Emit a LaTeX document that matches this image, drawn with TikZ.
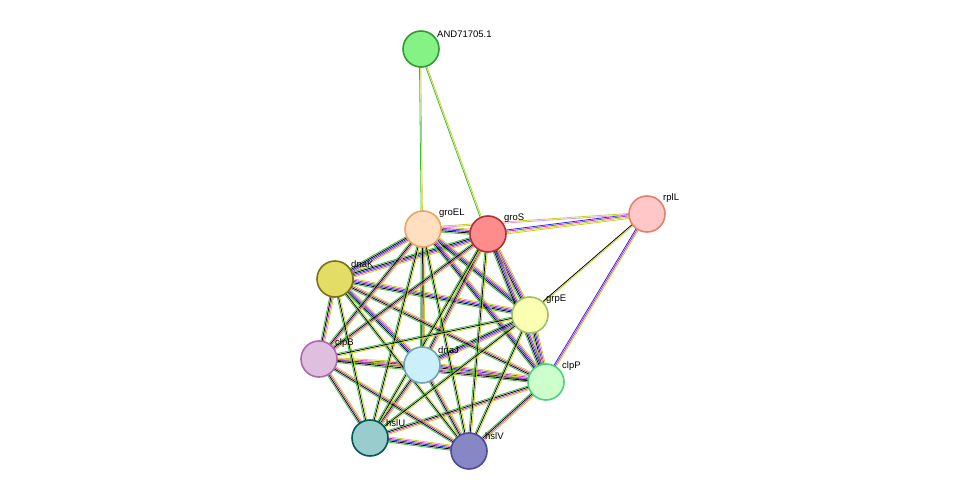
\documentclass[tikz,border=0pt]{standalone}
\usepackage{fontspec}
\setmainfont{Liberation Sans}
\usetikzlibrary{calc}
\pgfdeclarelayer{bg}\pgfsetlayers{bg,main}
\definecolor{eg}{HTML}{3DBB3D}
\definecolor{ey}{HTML}{C8D21E}
\definecolor{em}{HTML}{C832C8}
\definecolor{eb}{HTML}{2828E6}
\definecolor{er}{HTML}{E62828}
\definecolor{ec}{HTML}{28B4C8}
\newcommand\stredge[3]{\foreach \c [count=\i] in {#3} {\draw[\c, line width=0.8pt] ($(#1)!{(\i*1.3-3)*1pt}!90:(#2)$) -- ($(#2)!{(\i*1.3-3)*1pt}!-90:(#1)$);}}
\tikzset{prot/.style={circle, minimum size=36pt, line width=1.6pt, inner sep=0pt},
  lab/.style={font=\fontsize{9.5}{11}\selectfont, inner sep=0pt}}
\begin{document}
\begin{tikzpicture}[x=1pt,y=-1pt]
\useasboundingbox (0,0) rectangle (975,497);
\node[prot, fill=green!45!white!95!black, draw=green!50!black!80] (AND) at (421,49) {};
\node[prot, fill=orange!25, draw=orange!50!brown!70] (groEL) at (423,229) {};
\node[prot, fill=red!45, draw=red!60!black!80] (groS) at (488,234) {};
\node[prot, fill=red!22, draw=red!40!brown!70] (rplL) at (647,214) {};
\node[prot, fill=olive!45!yellow!55, draw=olive!80!black] (dnaK) at (335,279) {};
\node[prot, fill=lime!25!yellow!30, draw=olive!50!green!60] (grpE) at (530,315) {};
\node[prot, fill=violet!25, draw=violet!60] (clpB) at (319,359) {};
\node[prot, fill=cyan!20, draw=cyan!40!gray] (dnaJ) at (422,365) {};
\node[prot, fill=green!20, draw=green!50!teal!70] (clpP) at (546,382) {};
\node[prot, fill=teal!40, draw=teal!70!black] (hslU) at (370,438) {};
\node[prot, fill=blue!35!gray!70, draw=blue!40!black!70] (hslV) at (469,451) {};
\foreach \n/\t in {AND/AND71705.1,groEL/groEL,groS/groS,rplL/rplL,dnaK/dnaK,grpE/grpE,clpB/clpB,dnaJ/dnaJ,clpP/clpP,hslU/hslU,hslV/hslV}
  \node[lab, anchor=south west] (\n-l) at ($(\n)+(16,-11)$) {\t};
\begin{pgfonlayer}{bg}
\stredge{AND}{groEL}{eg,ey}
\stredge{AND}{groS}{eg,ey}
\stredge{rplL}{groS}{eb,em,ey,ey}
\stredge{rplL}{groEL}{ey,em!50}
\stredge{rplL}{grpE}{black,ey}
\stredge{rplL}{clpP}{eb,em,ey}
\foreach \a/\b in {groEL/groS,groEL/dnaK,groS/dnaK,groEL/grpE,groS/grpE,dnaK/grpE,grpE/clpP,groEL/clpP,groS/clpP,dnaK/dnaJ,grpE/dnaJ,dnaJ/clpP,hslU/hslV}
  {\stredge{\a}{\b}{eg,black,eb,em,ey}}
\foreach \a/\b in {groEL/dnaJ,groS/dnaJ,dnaK/clpB,clpB/dnaJ,clpB/clpP,dnaK/clpP,dnaJ/hslU,dnaJ/hslV,clpP/hslU,clpP/hslV,clpB/hslU,clpB/hslV,groEL/clpB,groS/clpB}
  {\stredge{\a}{\b}{eg,black,em,ey}}
\foreach \a/\b in {groEL/hslU,groEL/hslV,groS/hslU,groS/hslV,dnaK/hslU,dnaK/hslV,grpE/hslU,grpE/hslV,grpE/clpB}
  {\stredge{\a}{\b}{eg,black,ey}}
\end{pgfonlayer}
\end{tikzpicture}
\end{document}
